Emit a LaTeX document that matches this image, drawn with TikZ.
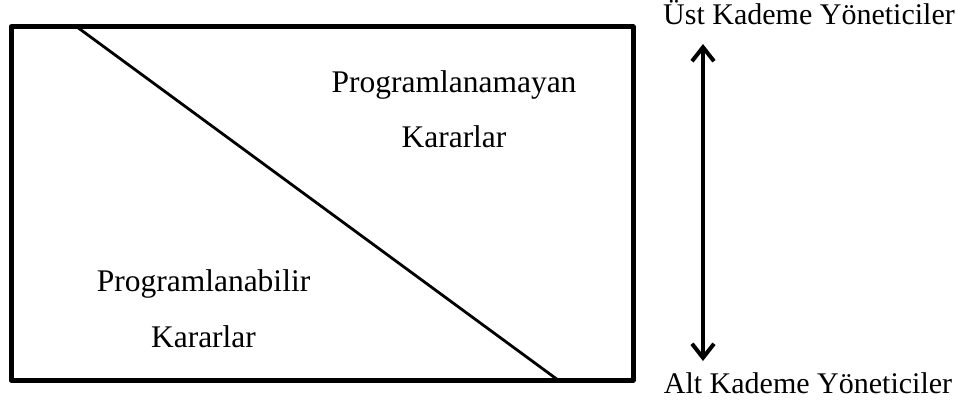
\documentclass[tikz,border=0pt]{standalone}
\usepackage{fontspec}
\setmainfont{Liberation Serif}
\usetikzlibrary{arrows.meta, positioning}

\begin{document}
\begin{tikzpicture}[x=1pt, y=-1pt, >={Straight Barb[length=14pt,width=22pt,line width=4pt]},
  label/.style={font=\fontsize{31.5}{36}\selectfont, anchor=base, inner sep=0pt},
  level/.style={label, font=\fontsize{30}{36}\selectfont}]
  \useasboundingbox (0,0) rectangle (956,409);
  % Frame and dividing line
  \draw[line width=5pt, line join=round] (11,27) rectangle (633,380);
  \draw[line width=2.8pt] (77,27) -- (558,380);
  % Decision types
  \node[label] (prognot) at (454,93) {Programlanamayan};
  \node[label] (kararup) at (454,148) {Kararlar};
  \node[label] (progyes) at (203.5,291) {Programlanabilir};
  \node[label] (kararlo) at (203.5,347) {Kararlar};
  % Management levels
  \node[level] (ust) at (809,25) {Üst Kademe Yöneticiler};
  \node[level] (alt) at (808,393) {Alt Kademe Yöneticiler};
  \coordinate (topend) at (703,44);
  \coordinate (botend) at (703,361);
  \draw[line width=3.2pt, <->] (topend) -- (botend);
\end{tikzpicture}
\end{document}
